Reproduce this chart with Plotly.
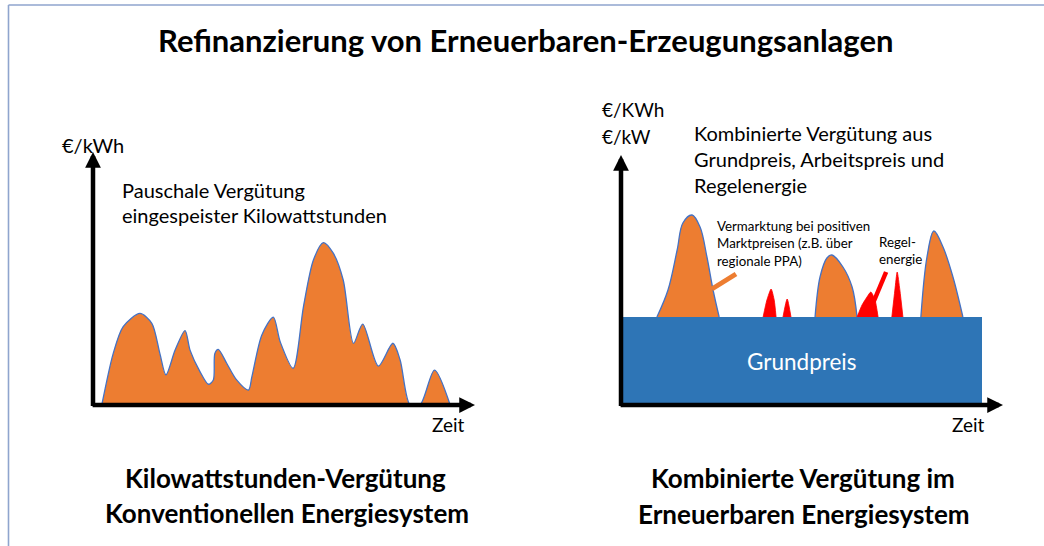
import plotly.graph_objects as go

W, H = 1044, 546

# ---------------- data ----------------
# Left panel: flat feed-in tariff, energy yield profile over time (0-100) / value (0-10)
left_t = [2.3, 5.3, 7.9, 12.3, 15.4, 17.5, 19.1, 21.5, 24.1, 25.4, 28.0, 30.2, 31.5, 31.9,
          32.8, 35.0, 37.6, 40.7, 41.6, 44.2, 47.2, 49.0, 52.4, 55.1, 57.7, 60.3, 62.9,
          65.5, 68.2, 70.6, 74.7, 78.5, 80.4, 83.0, 85.6, 89.4, 93.5]
left_v = [0, 2.04, 3.10, 3.62, 3.23, 2.04, 1.19, 2.17, 2.94, 2.17, 1.32, 0.82, 0.99, 2.04,
          2.20, 1.65, 0.99, 0.59, 1.12, 2.77, 3.47, 2.50, 1.45, 3.89, 5.73, 6.42, 6.00,
          4.94, 2.44, 3.20, 1.54, 2.44, 1.78, 0, 0, 1.38, 0]

# Right panel
base_start, base_end, base_price = 0.5, 94.5, 3.52   # Grundpreis block

market_peaks = [  # Vermarktung bei positiven Marktpreisen
    ([9.4, 12.3, 14.7, 16.2, 18.6, 20.7, 22.5, 24.1, 25.7],
     [3.52, 4.6, 6.2, 7.28, 7.6, 7.12, 5.92, 4.6, 3.52]),
    ([50.8, 52.1, 53.9, 55.2, 58.1, 60.5, 61.8],
     [3.52, 5.12, 5.88, 6.0, 5.52, 4.72, 3.52]),
    ([78.5, 80.1, 81.9, 84.3, 86.9, 89.5],
     [3.52, 5.92, 6.96, 6.32, 5.12, 3.52]),
]
control_spikes = [  # Regelenergie
    ([37.2, 38.2, 39.3, 40.1, 40.6], [3.52, 4.2, 4.64, 4.2, 3.52]),
    ([42.4, 43.5, 44.5], [3.52, 4.24, 3.52]),
    ([61.8, 63.1, 64.4, 65.4, 66.5, 67.3], [3.52, 4.0, 4.32, 4.52, 4.2, 3.52]),
    ([70.9, 71.7, 72.3, 73.0, 73.8], [3.52, 4.6, 5.32, 4.6, 3.52]),
]
callout_market = ([30.1, 23.8], [5.24, 4.64])
callout_control = ([69.4, 66.0], [5.32, 4.08])

ORANGE = "#ED7D31"
OUTLINE = "#4472C4"
BLUE = "#2E75B6"
RED = "#FF0000"
FONT = "Lato"

# ---------------- layout helpers ----------------
def px(x):
    return x / W

def py(y):
    return 1 - y / H

fig = go.Figure()

# Left curve
fig.add_trace(go.Scatter(x=left_t, y=left_v, mode="lines", fill="tozeroy",
                         fillcolor=ORANGE, line=dict(color=OUTLINE, width=1.3, shape="spline", smoothing=0.8),
                         xaxis="x", yaxis="y", hoverinfo="skip", showlegend=False))

# Right: base price block
fig.add_trace(go.Bar(x=[(base_start + base_end) / 2], y=[base_price], width=[base_end - base_start],
                     marker=dict(color=BLUE, line=dict(width=0)), xaxis="x2", yaxis="y2",
                     hoverinfo="skip", showlegend=False))

for t, v in market_peaks:
    fig.add_trace(go.Scatter(x=t, y=v, mode="lines", fill="toself", fillcolor=ORANGE,
                             line=dict(color=OUTLINE, width=1.3, shape="spline", smoothing=1.0),
                             xaxis="x2", yaxis="y2", hoverinfo="skip", showlegend=False))
for t, v in control_spikes:
    fig.add_trace(go.Scatter(x=t, y=v, mode="lines", fill="toself", fillcolor=RED,
                             line=dict(color=RED, width=0.8, shape="spline", smoothing=0.6),
                             xaxis="x2", yaxis="y2", hoverinfo="skip", showlegend=False))

fig.add_trace(go.Scatter(x=callout_market[0], y=callout_market[1], mode="lines",
                         line=dict(color=ORANGE, width=5), xaxis="x2", yaxis="y2",
                         hoverinfo="skip", showlegend=False))
fig.add_trace(go.Scatter(x=callout_control[0], y=callout_control[1], mode="lines",
                         line=dict(color=RED, width=4.5), xaxis="x2", yaxis="y2",
                         hoverinfo="skip", showlegend=False))

# Axes (arrows)
annotations = []
for xr, yr in (("x", "y"), ("x2", "y2")):
    annotations.append(dict(x=0, y=10, ax=0, ay=-0.1, xref=xr, yref=yr, axref=xr, ayref=yr,
                            text="", showarrow=True, arrowhead=2, arrowwidth=4.5, arrowsize=0.7,
                            arrowcolor="black", standoff=0))
    annotations.append(dict(x=100, y=0, ax=-0.5, ay=0, xref=xr, yref=yr, axref=xr, ayref=yr,
                            text="", showarrow=True, arrowhead=2, arrowwidth=4.5, arrowsize=0.7,
                            arrowcolor="black", standoff=0))

def txt(text, x, y, size, anchor="left", bold=False, color="black"):
    annotations.append(dict(text=("<b>%s</b>" % text) if bold else text,
                            x=px(x), y=py(y), xref="paper", yref="paper",
                            xanchor=anchor, yanchor="middle", showarrow=False, align=anchor,
                            font=dict(family=FONT, size=size, color=color)))

txt("Refinanzierung von Erneuerbaren-Erzeugungsanlagen", 525, 40, 31, "center", True)

txt("€/kWh", 60, 145, 20)
txt("Pauschale Vergütung", 120, 190, 20)
txt("eingespeister Kilowattstunden", 120, 215, 20)
txt("Zeit", 430, 424, 19)

txt("€/KWh", 600, 110, 19)
txt("€/kW", 600, 136, 19)
txt("Kombinierte Vergütung aus", 692, 133, 20)
txt("Grundpreis, Arbeitspreis und", 692, 159, 20)
txt("Regelenergie", 692, 185, 20)
txt("Vermarktung bei positiven", 715, 226, 13.3)
txt("Marktpreisen (z.B. über", 715, 243, 13.3)
txt("regionale PPA)", 715, 261, 13.3)
txt("Regel-", 877, 242, 13.3)
txt("energie", 877, 259, 13.3)
txt("Grundpreis", 802, 361, 22.5, "center", color="white")
txt("Zeit", 950, 424, 19)

txt("Kilowattstunden-Vergütung", 285, 478, 26, "center", True)
txt("Konventionellen Energiesystem", 287, 513, 26, "center", True)
txt("Kombinierte Vergütung im", 803, 478, 26, "center", True)
txt("Erneuerbaren Energiesystem", 804, 514, 26, "center", True)

shapes = [
    dict(type="line", xref="paper", yref="paper", x0=px(8.5), x1=px(8.5), y0=0, y1=py(5),
         line=dict(color="#8FA5CE", width=1.6)),
    dict(type="line", xref="paper", yref="paper", x0=px(8.5), x1=1, y0=py(5), y1=py(5),
         line=dict(color="#8FA5CE", width=1.6)),
]

axis_common = dict(range=[0, 100], showgrid=False, zeroline=False, showline=False,
                   showticklabels=False, ticks="", fixedrange=True)
yaxis_common = dict(range=[0, 10], showgrid=False, zeroline=False, showline=False,
                    showticklabels=False, ticks="", fixedrange=True)

fig.update_layout(
    width=W, height=H, margin=dict(l=0, r=0, t=0, b=0),
    paper_bgcolor="white", plot_bgcolor="white",
    xaxis=dict(domain=[px(93), px(475)], anchor="y", **axis_common),
    yaxis=dict(domain=[py(405), py(152)], anchor="x", **yaxis_common),
    xaxis2=dict(domain=[px(621), px(1003)], anchor="y2", **axis_common),
    yaxis2=dict(domain=[py(405), py(155)], anchor="x2", **yaxis_common),
    annotations=annotations, shapes=shapes, showlegend=False, bargap=0,
)

fig.write_html("out.html", config={"displayModeBar": False},
               post_script="document.body.style.margin='0';document.body.style.overflow='hidden';")
